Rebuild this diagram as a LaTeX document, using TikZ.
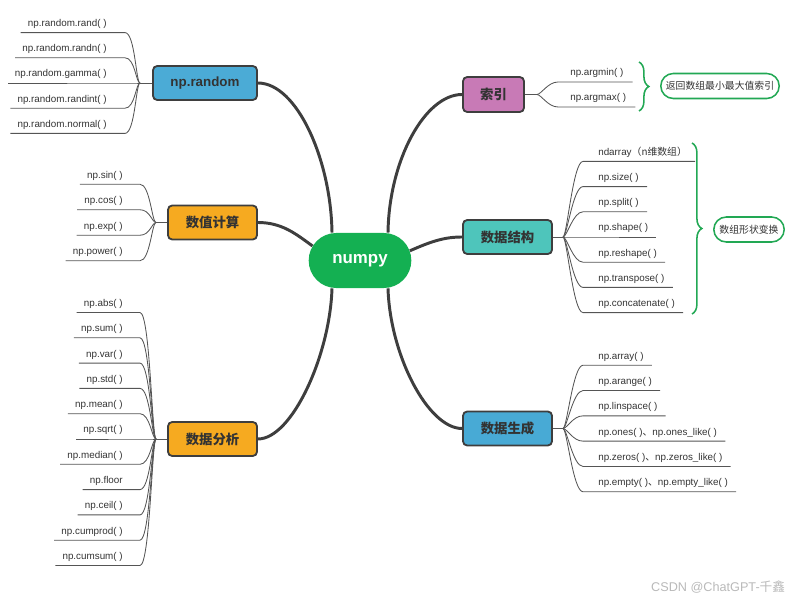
\documentclass[tikz,border=0pt]{standalone}
\usepackage{fontspec}
\setmainfont{Liberation Sans}
\newfontfamily\cjk{Noto Sans CJK SC}
\usepackage{xcolor}
\usepackage{tikz}
\usetikzlibrary{
  shapes.misc,
  positioning,
  calc,
  decorations.pathreplacing
}
\definecolor{HubGreen}{RGB}{20, 176, 82}
\definecolor{RandBlue}{RGB}{75, 171, 214}
\definecolor{GenBlue}{RGB}{72, 170, 213}
\definecolor{IdxPink}{RGB}{200, 122, 182}
\definecolor{StructTeal}{RGB}{78, 197, 187}
\definecolor{CalcOrange}{RGB}{246, 170, 32}
\definecolor{BraceGreen}{RGB}{34, 168, 84}
\definecolor{EdgeGray}{RGB}{62, 62, 62}
\definecolor{TwigGray}{RGB}{85, 85, 85}
\definecolor{TextGray}{RGB}{51, 51, 51}
\tikzset{
    hub/.style={rounded rectangle, fill=HubGreen, minimum width=2.8cm, minimum height=1.375cm,
        font=\fontsize{12}{14}\selectfont\bfseries, text=white},
    topic/.style={draw=EdgeGray, line width=1.3pt, rounded corners=3pt, minimum height=0.85cm,
        inner sep=2pt, font=\fontsize{9.5}{11}\selectfont\bfseries, text=TextGray},
    leaf/.style={inner sep=0pt, font=\fontsize{7}{8}\selectfont, text=TextGray},
    branch/.style={draw=EdgeGray, line width=2.1pt},
    twig/.style={draw=TwigGray, line width=0.6pt},
    note/.style={rounded rectangle, draw=BraceGreen, line width=1.1pt, fill=white,
        minimum height=0.625cm, inner sep=2pt, font=\fontsize{7}{8}\selectfont\cjk, text=TextGray},
    curly/.style={draw=BraceGreen, line width=1.1pt, decorate, decoration={brace, amplitude=7pt}}
}

\begin{document}
\begin{tikzpicture}[x=0.025cm, y=-0.025cm]
\useasboundingbox (0,0) rectangle (803,603);

% centre and topics
\node[hub] (np) at (360,260.5) {numpy};
\node[topic, fill=RandBlue, minimum width=2.6cm] (npr) at (205,83) {np.random};
\node[topic, fill=CalcOrange, minimum width=2.225cm] (cal) at (212.5,222.5) {\cjk 数值计算};
\node[topic, fill=CalcOrange, minimum width=2.225cm] (ana) at (212.5,439) {\cjk 数据分析};
\node[topic, fill=IdxPink, minimum width=1.525cm, minimum height=0.875cm] (idx) at (493.5,94.5) {\cjk 索引};
\node[topic, fill=StructTeal, minimum width=2.225cm] (str) at (507.5,237) {\cjk 数据结构};
\node[topic, fill=GenBlue, minimum width=2.225cm] (gen) at (507.5,428.5) {\cjk 数据生成};

\draw[branch] (npr.east) .. controls (297,83) and (331,160) .. ($(np.north)+(-28,0)$);
\draw[branch] (cal.east) .. controls (282,222.5) and (296,234) .. (np.163);
\draw[branch] ($(np.south)+(-28,0)$) .. controls (330,355) and (292,439) .. (ana.east);
\draw[branch] ($(np.north)+(28,0)$) .. controls (389,160) and (425,94.5) .. (idx.west);
\draw[branch] (np.11) .. controls (432,241) and (445,237) .. (str.west);
\draw[branch] ($(np.south)+(28,0)$) .. controls (390,355) and (428,428.5) .. (gen.west);

% junctions
\coordinate (jr) at (140,83);
\coordinate (jc) at (156,222.5);
\coordinate (ja) at (156,439);
\coordinate (ji) at (537,94.5);
\coordinate (js) at (563,237);
\coordinate (jg) at (563,428.5);
\draw[twig] (npr.west) -- (jr);
\draw[twig] (cal.west) -- (jc);
\draw[twig] (ana.west) -- (ja);
\draw[twig] (idx.east) -- (ji);
\draw[twig] (str.east) -- (js);
\draw[twig] (gen.east) -- (jg);

% left leaves
\foreach \lbl [count=\i] in {np.random.rand( ), np.random.randn( ), np.random.gamma( ),
    np.random.randint( ), np.random.normal( )} {
  \node[leaf, anchor=base east] (rnd\i) at (107, {83+(\i-3)*25.2-6}) {\lbl};
  \draw[twig] (jr) .. controls +(-4,0) and +(10,0) .. ($(rnd\i.base east)+(18,6)$)
    -- ($(rnd\i.base west)+(-7,6)$);
}
\foreach \lbl [count=\i] in {np.sin( ), np.cos( ), np.exp( ), np.power( )} {
  \node[leaf, anchor=base east] (cal\i) at (123, {222.5+(\i-2.5)*25.5-6}) {\lbl};
  \draw[twig] (jc) .. controls +(-4,0) and +(10,0) .. ($(cal\i.base east)+(17,6)$)
    -- ($(cal\i.base west)+(-7,6)$);
}
\foreach \lbl [count=\i] in {np.abs( ), np.sum( ), np.var( ), np.std( ), np.mean( ), np.sqrt( ),
    np.median( ), np.floor, np.ceil( ), np.cumprod( ), np.cumsum( )} {
  \node[leaf, anchor=base east] (ana\i) at (123, {439+(\i-6)*25.3-6}) {\lbl};
  \draw[twig] (ja) .. controls +(-4,0) and +(10,0) .. ($(ana\i.base east)+(17,6)$)
    -- ($(ana\i.base west)+(-7,6)$);
}

% right leaves
\foreach \lbl [count=\i] in {np.argmin( ), np.argmax( )} {
  \node[leaf, anchor=base west] (idx\i) at (570, {94.5+(\i-1.5)*25-6}) {\lbl};
  \draw[twig] (ji) .. controls +(4,0) and +(-10,0) .. ($(idx\i.base west)+(-12,6)$)
    -- ($(idx\i.base east)+(9,6)$);
}
\foreach \lbl [count=\i] in {ndarray{\cjk（n维数组）}, np.size( ), np.split( ), np.shape( ),
    np.reshape( ), np.transpose( ), np.concatenate( )} {
  \node[leaf, anchor=base west] (str\i) at (598, {237+(\i-4)*25.2-6}) {\lbl};
  \draw[twig] (js) .. controls +(4,0) and +(-10,0) .. ($(str\i.base west)+(-15,6)$)
    -- ($(str\i.base east)+(8,6)$);
}
\foreach \lbl [count=\i] in {np.array( ), np.arange( ), np.linspace( ),
    np.ones( ){\cjk 、}np.ones\_like( ), np.zeros( ){\cjk 、}np.zeros\_like( ),
    np.empty( ){\cjk 、}np.empty\_like( )} {
  \node[leaf, anchor=base west] (gen\i) at (598, {428.5+(\i-3.5)*25.3-6}) {\lbl};
  \draw[twig] (jg) .. controls +(4,0) and +(-10,0) .. ($(gen\i.base west)+(-15,6)$)
    -- ($(gen\i.base east)+(8,6)$);
}

% braces and notes
\coordinate (b1a) at (639,62);
\coordinate (b1b) at (639,111);
\draw[curly] (b1a) -- (b1b);
\node[note, minimum width=3.1cm] (minmax) at (720,86) {返回数组最小最大值索引};
\coordinate (b2a) at (692,143);
\coordinate (b2b) at (692,314);
\draw[curly] (b2a) -- (b2b);
\node[note, minimum width=1.9cm] (reshape) at (749,229.5) {数组形状变换};

\node[anchor=east, text=gray!55, font=\fontsize{9}{10}\selectfont] (mark) at (790,587)
    {CSDN @ChatGPT-{\cjk 千鑫}};
\end{tikzpicture}
\end{document}
